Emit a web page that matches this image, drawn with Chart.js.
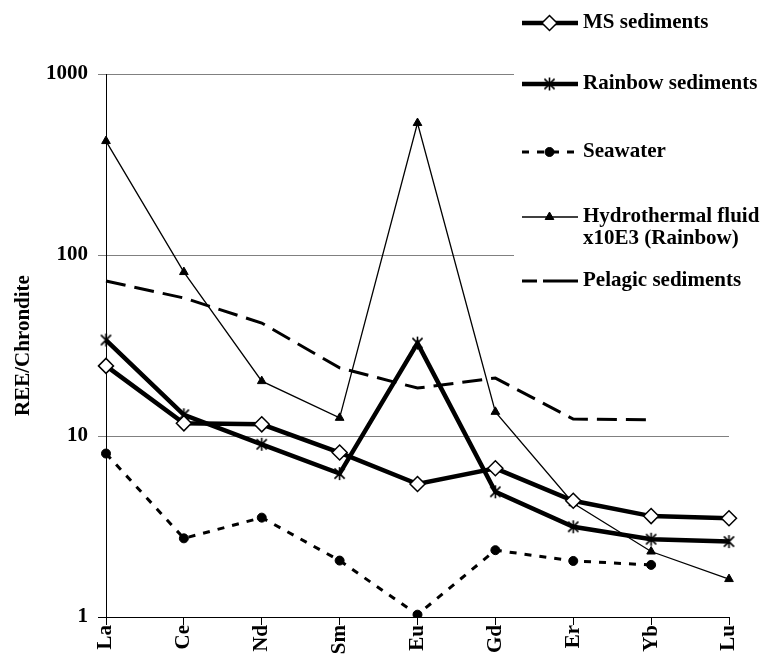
<!DOCTYPE html>
<html>
<head>
<meta charset="utf-8">
<script src="https://cdn.jsdelivr.net/npm/chart.js@4/dist/chart.umd.min.js"></script>
<style>
  html, body { margin: 0; padding: 0; background: #fff; }
  #wrap { width: 766px; height: 663px; }
</style>
</head>
<body>
<div id="wrap"><canvas id="ree" width="766" height="663"></canvas></div>
<script>
// Chondrite-normalised REE patterns
const elements = ['La', 'Ce', 'Nd', 'Sm', 'Eu', 'Gd', 'Er', 'Yb', 'Lu'];
const msSediments      = [24.4, 11.75, 11.6, 8.1, 5.43, 6.63, 4.39, 3.61, 3.51];
const rainbowSediments = [33.9, 13.1, 9.0, 6.2, 32.6, 4.92, 3.15, 2.69, 2.61];
const seawater         = [8.0, 2.72, 3.54, 2.05, 1.03, 2.34, 2.04, 1.94, null];
const hydroFluid       = [426, 80.5, 20.1, 12.6, 536, 13.6, 4.25, 2.30, 1.62];
const pelagicSediments = [71.8, 57.9, 42.1, 23.8, 18.4, 20.9, 12.4, 12.3, null];
const yTickValues = [1, 10, 100, 1000];
const legendText = [
  ['MS sediments'],
  ['Rainbow sediments'],
  ['Seawater'],
  ['Hydrothermal fluid', 'x10E3 (Rainbow)'],
  ['Pelagic sediments']
];

const FONT = '"Liberation Serif", "Times New Roman", serif';

// Excel-style asterisk marker: an X crossed by a vertical bar
function makeAsterisk(size, lw) {
  const c = document.createElement('canvas');
  c.width = c.height = size;
  const g = c.getContext('2d');
  g.strokeStyle = '#000';
  g.lineWidth = lw;
  const m = size / 2, r = size / 2 - 1, d = r * 0.78;
  g.beginPath();
  g.moveTo(m - d, m - d); g.lineTo(m + d, m + d);
  g.moveTo(m + d, m - d); g.lineTo(m - d, m + d);
  g.moveTo(m, m - r); g.lineTo(m, m + r);
  g.stroke();
  return c;
}
const asterisk = makeAsterisk(15, 1.6);

// Legend panel on the upper right, painted over the plot area
const legendRows = [23, 84, 152, 217, 281];
const sideLegend = {
  id: 'sideLegend',
  afterDraw(chart) {
    const ctx = chart.ctx;
    ctx.save();
    ctx.fillStyle = '#fff';
    ctx.fillRect(514, 0, 252, 300);
    chart.data.datasets.forEach((ds, i) => {
      const y = legendRows[i];
      ctx.strokeStyle = '#000';
      ctx.lineWidth = ds.borderWidth;
      ctx.setLineDash(ds.legendDash || ds.borderDash || []);
      ctx.beginPath();
      ctx.moveTo(522, y);
      ctx.lineTo(578, y);
      ctx.stroke();
      ctx.setLineDash([]);
      if (ds.pointRadius > 0) {
        ctx.fillStyle = ds.pointBackgroundColor;
        ctx.strokeStyle = ds.pointBorderColor;
        ctx.lineWidth = ds.pointBorderWidth;
        Chart.helpers.drawPoint(ctx, {
          pointStyle: ds.pointStyle,
          radius: ds.pointRadius,
          borderWidth: ds.pointBorderWidth,
          rotation: 0
        }, 549.5, y);
      }
      ctx.fillStyle = '#000';
      ctx.font = 'bold 21px ' + FONT;
      ctx.textBaseline = 'middle';
      ctx.textAlign = 'left';
      legendText[i].forEach((t, k) => ctx.fillText(t, 583, y + k * 22));
    });
    ctx.restore();
  }
};

new Chart(document.getElementById('ree'), {
  type: 'line',
  data: {
    labels: elements,
    datasets: [
      {
        label: 'MS sediments',
        data: msSediments,
        borderColor: '#000',
        borderWidth: 4.5,
        pointStyle: 'rectRot',
        pointRadius: 7.5,
        pointBackgroundColor: '#fff',
        pointBorderColor: '#000',
        pointBorderWidth: 1.5
      },
      {
        label: 'Rainbow sediments',
        data: rainbowSediments,
        borderColor: '#000',
        borderWidth: 4.5,
        pointStyle: asterisk,
        pointRadius: 7,
        pointBackgroundColor: '#000',
        pointBorderColor: '#000',
        pointBorderWidth: 1.5
      },
      {
        label: 'Seawater',
        data: seawater,
        borderColor: '#000',
        borderWidth: 3,
        borderDash: [7, 8],
        pointStyle: 'circle',
        pointRadius: 4.5,
        pointBackgroundColor: '#000',
        pointBorderColor: '#000',
        pointBorderWidth: 1
      },
      {
        label: 'Hydrothermal fluid x10E3 (Rainbow)',
        data: hydroFluid,
        borderColor: '#000',
        borderWidth: 1.3,
        pointStyle: 'triangle',
        pointRadius: 5,
        pointBackgroundColor: '#000',
        pointBorderColor: '#000',
        pointBorderWidth: 1
      },
      {
        label: 'Pelagic sediments',
        data: pelagicSediments,
        borderColor: '#000',
        borderWidth: 3,
        borderDash: [20, 9],
        legendDash: [15, 6, 35, 0],
        pointRadius: 0,
        pointStyle: false
      }
    ]
  },
  options: {
    responsive: false,
    animation: false,
    devicePixelRatio: 1,
    events: [],
    layout: { padding: { top: 74, right: 37, left: 0, bottom: 0 } },
    plugins: {
      legend: { display: false },
      tooltip: { enabled: false },
      title: { display: false }
    },
    elements: { line: { tension: 0 } },
    scales: {
      x: {
        type: 'category',
        offset: false,
        afterFit(scale) { scale.height = 46; },
        grid: {
          drawOnChartArea: false,
          drawTicks: true,
          tickLength: 8,
          color: '#000',
          lineWidth: 1
        },
        border: { color: '#000', width: 1 },
        ticks: {
          autoSkip: false,
          minRotation: 90,
          maxRotation: 90,
          padding: 0,
          color: '#000',
          font: { family: FONT, size: 21, weight: 'bold' }
        }
      },
      y: {
        type: 'logarithmic',
        min: 1,
        max: 1000,
        afterFit(scale) { scale.width = 106; },
        afterBuildTicks(scale) { scale.ticks = yTickValues.map(v => ({ value: v })); },
        grid: {
          drawTicks: true,
          tickLength: 8,
          color: ctx => (ctx.tick && ctx.tick.value === 1) ? '#000' : '#808080',
          lineWidth: 1
        },
        border: { color: '#000', width: 1 },
        ticks: {
          padding: 10,
          color: '#000',
          font: { family: FONT, size: 21, weight: 'bold' },
          callback: v => String(v)
        },
        title: {
          display: true,
          text: 'REE/Chrondite',
          color: '#000',
          padding: { top: 11, bottom: 0 },
          font: { family: FONT, size: 21, weight: 'bold' }
        }
      }
    }
  },
  plugins: [sideLegend]
});
</script>
</body>
</html>
